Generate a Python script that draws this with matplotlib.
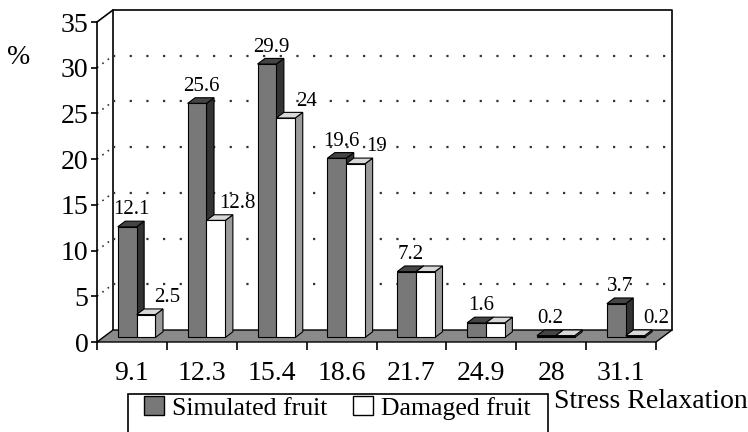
import numpy as np
import matplotlib.pyplot as plt
from matplotlib.patches import Polygon, Patch, Rectangle

# data
categories = ['9.1', '12.3', '15.4', '18.6', '21.7', '24.9', '28', '31.1']
simulated = [12.1, 25.6, 29.9, 19.6, 7.2, 1.6, 0.2, 3.7]
damaged = [2.5, 12.8, 24, 19, 7.2, 1.6, 0.2, 0.2]
y_ticks = [0, 5, 10, 15, 20, 25, 30, 35]

plt.rcParams['font.family'] = ['Liberation Serif', 'DejaVu Serif']

W, H = 748, 432
fig = plt.figure(figsize=(W / 100, H / 100), dpi=100)
x0, x1, y0, y1 = 97, 656, 342, 22
ax = fig.add_axes([x0 / W, 1 - y0 / H, (x1 - x0) / W, (y0 - y1) / H])
n = len(categories)
ax.set_xlim(0, n)
ax.set_ylim(0, 35)

# depth of the pseudo 3d box in data units
dx = 16 / ((x1 - x0) / n)
dy = 12 / ((y0 - y1) / 35)

def poly(pts, fc, ec='black', lw=0.8, z=1):
    ax.add_patch(Polygon(pts, closed=True, facecolor=fc, edgecolor=ec,
                         linewidth=lw, zorder=z, clip_on=False))

# walls and floor
poly([(0, 0), (dx, dy), (dx, 35 + dy), (0, 35)], 'white', 'none', z=0)
poly([(dx, dy), (n + dx, dy), (n + dx, 35 + dy), (dx, 35 + dy)], 'white', 'none', z=0)
ax.plot([dx, dx, n + dx, n + dx], [dy, 35 + dy, 35 + dy, dy], color='black', lw=1.2, clip_on=False, zorder=1)
ax.plot([0, dx], [35, 35 + dy], color='black', lw=1.2, clip_on=False, zorder=1)
for v in y_ticks[1:-1]:
    ax.plot([dx, n + dx], [v + dy, v + dy], color='#333333', lw=1.6,
            linestyle=(0, (1, 6.5)), clip_on=False, zorder=1)
    ax.plot([0, dx], [v, v + dy], color='#333333', lw=1.2,
            linestyle=(0, (1, 3)), clip_on=False, zorder=1)
poly([(0, 0), (n, 0), (n + dx, dy), (dx, dy)], '#8a8a8a', 'black', lw=1.0, z=2)

# bars: front face + side + top
t0, t1 = 0.38, 0.85
bw = 0.27
styles = [('#787878', '#333333', '#454545'), ('white', '#9a9a9a', '#d8d8d8')]
label_shift = [0.06, 0.3]
for k, vals in enumerate([simulated, damaged]):
    front, side, top = styles[k]
    for i, v in enumerate(vals):
        xl = i + 0.21 + k * bw + t0 * dx
        yb = t0 * dy
        xr = xl + bw
        ddx = (t1 - t0) * dx
        ddy = (t1 - t0) * dy
        z = 5 + i * 2 + k
        poly([(xr, yb), (xr + ddx, yb + ddy), (xr + ddx, v + yb + ddy), (xr, v + yb)], side, z=z)
        poly([(xl, v + yb), (xr, v + yb), (xr + ddx, v + yb + ddy), (xl + ddx, v + yb + ddy)], top, z=z)
        poly([(xl, yb), (xr, yb), (xr, v + yb), (xl, v + yb)], front, z=z)
        if k == 1 and v == simulated[i]:
            continue
        ax.text(xl + bw / 2 + label_shift[k], v + yb + ddy + 0.2, f'{v:g}', ha='center', va='bottom',
                fontsize=15, zorder=30)

# axes styling
for s in ['top', 'right', 'bottom']:
    ax.spines[s].set_visible(False)
ax.spines['left'].set_linewidth(1.2)
ax.set_yticks(y_ticks)
ax.tick_params(axis='y', labelsize=20, length=4, width=1.2, pad=2)
ax.set_xticks(np.arange(n + 1))
ax.set_xticklabels([])
ax.tick_params(axis='x', length=6, width=1.2)
ax.set_xticks(np.arange(n) + 0.5, minor=True)
ax.set_xticklabels(categories, minor=True, fontsize=20)
ax.tick_params(axis='x', which='minor', length=0, pad=14)
ax.patch.set_visible(False)

fig.text(19 / W, 1 - 58 / H, '%', fontsize=20, ha='center', va='center')
fig.text(554 / W, 1 - 401 / H, 'Stress Relaxation', fontsize=20, ha='left', va='center')

# legend box runs off the bottom edge like in the reference
fig.patches.append(Rectangle((128 / W, -10 / H), 420 / W, (432 - 394 + 10) / H,
                             transform=fig.transFigure, facecolor='white',
                             edgecolor='black', linewidth=1.2, zorder=0))
handles = [Patch(facecolor='#787878', edgecolor='black'), Patch(facecolor='white', edgecolor='black')]
leg = fig.legend(handles, ['Simulated fruit', 'Damaged fruit'], loc='upper left',
                 bbox_to_anchor=(144 / W, 1 - 396 / H), ncol=2, fontsize=18.5,
                 frameon=False, handlelength=0.78, handleheight=0.78,
                 handletextpad=0.3, columnspacing=1.0,
                 borderpad=0, borderaxespad=0)

fig.savefig('out.png', dpi=100)
